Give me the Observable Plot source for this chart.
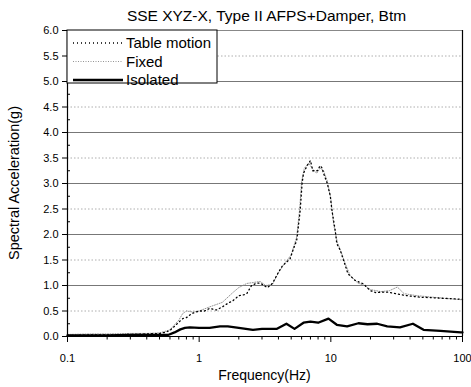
<!DOCTYPE html>
<html>
<head>
<meta charset="utf-8">
<script src="https://cdn.jsdelivr.net/npm/d3@7"></script>
<script src="https://cdn.jsdelivr.net/npm/@observablehq/plot@0.6"></script>
<style>
  html, body { margin: 0; padding: 0; background: #fff; }
  svg { display: block; }
</style>
</head>
<body>
<div id="chart"></div>
<script>
const titleText = "SSE XYZ-X, Type II AFPS+Damper, Btm";
const xLabel = "Frequency(Hz)";
const yLabel = "Spectral Acceleration(g)";
const seriesNames = ["Table motion", "Fixed", "Isolated"];
const xTicks = [0.1, 1, 10, 100];
const yTicks = [0, 0.5, 1, 1.5, 2, 2.5, 3, 3.5, 4, 4.5, 5, 5.5, 6];
const yMajorGrid = [1, 2, 3, 4, 5];
const yHalfGrid = [0.5, 1.5, 2.5, 3.5, 4.5, 5.5];
const yMinorTicks = [0.25, 0.75, 1.25, 1.75, 2.25, 2.75, 3.25, 3.75, 4.25, 4.75, 5.25, 5.75];
const xMinorTicks = [0.2,0.3,0.4,0.5,0.6,0.7,0.8,0.9,2,3,4,5,6,7,8,9,20,30,40,50,60,70,80,90];

const tableFreq = [0.1,0.15,0.2,0.3,0.4,0.5,0.55,0.6,0.65,0.7,0.75,0.8,0.88,0.95,1.0,1.1,1.2,1.35,1.5,1.65,1.8,2.0,2.2,2.3,2.5,2.7,2.9,3.1,3.3,3.6,4.0,4.3,4.9,5.2,5.5,5.6,5.85,6.05,6.2,6.6,7.0,7.3,7.9,8.3,8.6,8.8,9.4,9.9,10.2,10.8,11.1,11.8,12.5,13.5,15.3,17.7,19.9,22,24,27,30,34,38,48,60,70,85,100];
const tableVal  = [0.02,0.03,0.03,0.04,0.05,0.06,0.08,0.12,0.2,0.28,0.35,0.37,0.45,0.48,0.5,0.5,0.55,0.52,0.58,0.65,0.7,0.8,0.82,0.84,1.0,1.04,1.05,1.0,0.96,1.04,1.26,1.39,1.52,1.72,1.88,2.04,2.47,3.0,3.2,3.35,3.45,3.25,3.25,3.35,3.3,3.2,3.0,2.76,2.47,2.08,1.82,1.69,1.49,1.23,1.1,1.03,0.9,0.86,0.87,0.87,0.85,0.82,0.8,0.77,0.76,0.75,0.74,0.73];

const fixedFreq = [0.1,0.15,0.2,0.3,0.4,0.5,0.6,0.7,0.75,0.8,0.9,1.0,1.2,1.5,1.8,2.0,2.3,2.6,2.9,3.2,3.6,4.0,4.5,5.0,5.5,5.8,6.0,6.3,6.8,7.2,7.8,8.3,8.8,9.4,10,10.5,11.2,12,13,14,16,18,20,24,28,32,36,45,60,80,100];
const fixedVal  = [0.04,0.05,0.05,0.06,0.06,0.07,0.13,0.32,0.45,0.5,0.48,0.5,0.58,0.67,0.86,0.96,1.04,1.06,1.08,1.0,1.02,1.25,1.45,1.6,1.95,2.5,3.05,3.3,3.4,3.3,3.2,3.3,3.25,3.05,2.7,2.2,1.85,1.65,1.4,1.2,1.05,1.0,0.92,0.88,0.9,0.97,0.84,0.8,0.77,0.74,0.72];

const isoFreq = [0.1,0.2,0.3,0.4,0.5,0.58,0.65,0.72,0.78,0.85,1.0,1.2,1.44,1.65,2.0,2.56,3.0,3.9,4.6,5.3,6.2,7.0,8.0,9.6,11.1,13.3,16.2,19,22.5,26.8,33.5,42,50.6,68,97,100];
const isoVal  = [0.02,0.02,0.03,0.03,0.03,0.03,0.08,0.14,0.17,0.18,0.17,0.17,0.2,0.2,0.17,0.13,0.15,0.15,0.25,0.15,0.27,0.29,0.27,0.35,0.23,0.2,0.26,0.24,0.25,0.2,0.18,0.25,0.13,0.11,0.08,0.08];

const toRows = (f, v) => f.map((x, i) => ({f: x, v: v[i]}));
const tableRows = toRows(tableFreq, tableVal);
const fixedRows = toRows(fixedFreq, fixedVal);
const isoRows = toRows(isoFreq, isoVal);

const W = 471, H = 387;
const mL = 67, mR = 9, mT = 30, mB = 51;
const font = "'Liberation Sans', Arial, sans-serif";

const chart = Plot.plot({
  width: W, height: H,
  marginLeft: mL, marginRight: mR, marginTop: mT, marginBottom: mB,
  style: {fontFamily: font, fontSize: "11px", background: "#fff", color: "#000"},
  x: {type: "log", domain: [0.1, 100], label: null},
  y: {domain: [0, 6], label: null},
  marks: [
    Plot.ruleY(yHalfGrid, {stroke: "#999", strokeWidth: 0.8, strokeDasharray: "1.5,2"}),
    Plot.ruleY(yMajorGrid, {stroke: "#777", strokeWidth: 1}),
    Plot.ruleY([6], {stroke: "#888", strokeWidth: 1}),
    Plot.line(fixedRows, {x: "f", y: "v", stroke: "#888", strokeWidth: 0.9, strokeDasharray: "1,1.5"}),
    Plot.line(tableRows, {x: "f", y: "v", stroke: "#000", strokeWidth: 1.3, strokeDasharray: "1,3"}),
    Plot.line(isoRows, {x: "f", y: "v", stroke: "#000", strokeWidth: 2.3}),
    Plot.ruleY([0], {stroke: "#000", strokeWidth: 1.2}),
    Plot.ruleX([0.1], {stroke: "#000", strokeWidth: 1.2}),
    Plot.ruleX([100], {stroke: "#000", strokeWidth: 1.2}),
    Plot.axisY({ticks: yTicks, tickFormat: d3.format(".1f"), tickSize: 5, tickPadding: 4, fontSize: 11, stroke: "#000"}),
    Plot.axisY({ticks: yMinorTicks, tickFormat: () => "", tickSize: -3, stroke: "#000"}),
    Plot.axisX({ticks: xTicks, tickFormat: d => String(d), tickSize: 6, tickPadding: 12, fontSize: 11, stroke: "#000"}),
    Plot.axisX({ticks: xMinorTicks, tickFormat: () => "", tickSize: 3.5, stroke: "#000"})
  ]
});

document.getElementById("chart").appendChild(chart);

const svg = d3.select(chart);
const plotCenter = (mL + (W - mR)) / 2;

svg.append("text").attr("x", plotCenter + 2).attr("y", 21)
  .attr("text-anchor", "middle").attr("font-size", 15.5).attr("font-family", font)
  .attr("fill", "#000").text(titleText);

svg.append("text").attr("x", plotCenter).attr("y", 380)
  .attr("text-anchor", "middle").attr("font-size", 14).attr("font-family", font)
  .attr("fill", "#000").text(xLabel);

svg.append("text").attr("transform", `translate(19,${(mT + H - mB) / 2}) rotate(-90)`)
  .attr("text-anchor", "middle").attr("font-size", 14.5).attr("font-family", font)
  .attr("fill", "#000").text(yLabel);

// legend
const lg = svg.append("g");
lg.append("rect").attr("x", mL).attr("y", mT).attr("width", 150).attr("height", 53)
  .attr("fill", "#fff").attr("stroke", "#000").attr("stroke-width", 1);
const legendStyles = [
  {stroke: "#000", width: 1.3, dash: "1,3"},
  {stroke: "#888", width: 0.9, dash: "1,1.5"},
  {stroke: "#000", width: 2.3, dash: null}
];
seriesNames.forEach((name, i) => {
  const y = 43 + i * 18.5;
  const s = legendStyles[i];
  const ln = lg.append("line").attr("x1", 73).attr("x2", 123).attr("y1", y).attr("y2", y)
    .attr("stroke", s.stroke).attr("stroke-width", s.width);
  if (s.dash) ln.attr("stroke-dasharray", s.dash);
  lg.append("text").attr("x", 126).attr("y", y).attr("dy", "0.36em")
    .attr("text-anchor", "start")
    .attr("font-size", 15).attr("font-family", font).attr("fill", "#000").text(name);
});
</script>
</body>
</html>
